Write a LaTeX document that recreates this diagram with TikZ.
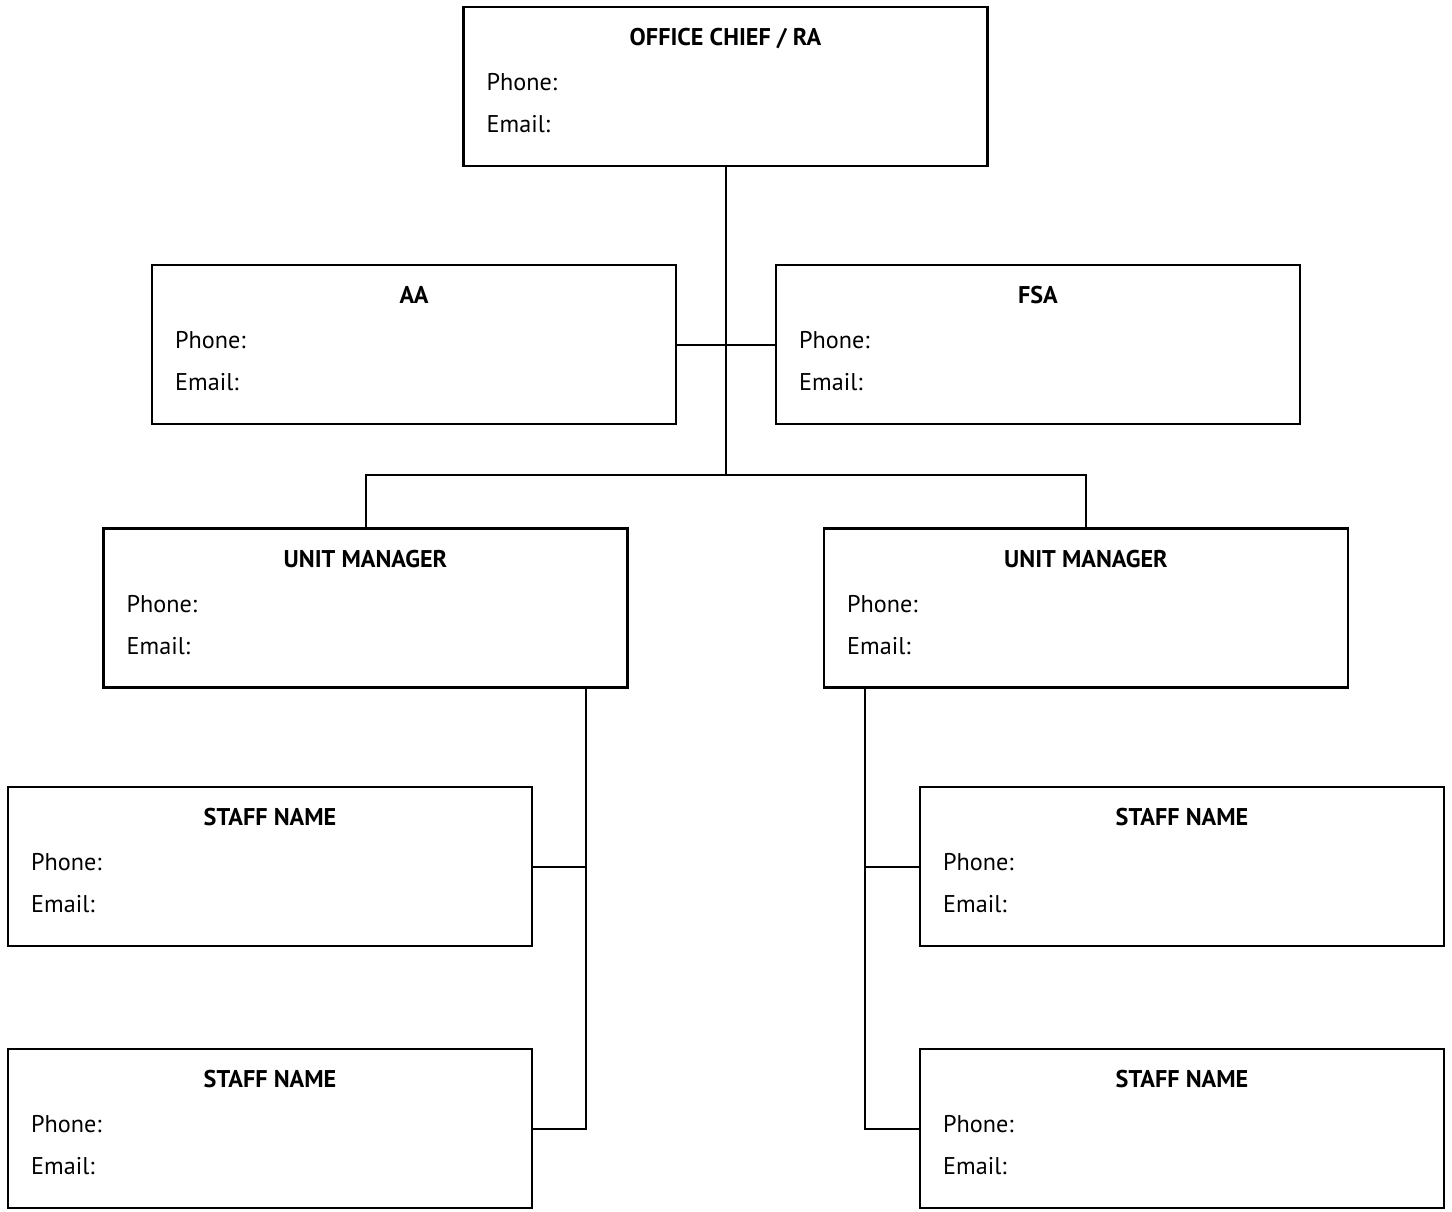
\documentclass[tikz,border=0pt]{standalone}
\usepackage{fontspec}
\setmainfont{PT Sans}
\usepackage{tikz}
\usetikzlibrary{positioning}

\tikzset{
  orgbox/.style={draw, line width=1.2pt, minimum width=262pt, minimum height=79.5pt, inner sep=0pt},
  orgtitle/.style={anchor=base, inner sep=0pt, font=\fontsize{12.1}{15}\selectfont\bfseries},
  orgline/.style={anchor=base west, inner sep=0pt, font=\fontsize{12.1}{15}\selectfont},
  link/.style={line width=1pt}
}

\begin{document}
\begin{tikzpicture}[x=0.5pt, y=-0.5pt]
    \useasboundingbox (0,0) rectangle (1452,1211);
    % boxes
    \node[orgbox] (chief) at (725.5, 86.5) {};
    \node[orgbox] (aa)    at (414, 344.5)  {};
    \node[orgbox] (fsa)   at (1038, 344.5) {};
    \node[orgbox] (uml)   at (365.5, 608)  {};
    \node[orgbox] (umr)   at (1086, 608)   {};
    \node[orgbox] (sl1)   at (270, 866.5)  {};
    \node[orgbox] (sr1)   at (1182, 866.5) {};
    \node[orgbox] (sl2)   at (270, 1128.5) {};
    \node[orgbox] (sr2)   at (1182, 1128.5) {};
    % texts
    \node[orgtitle] (chief-t) at ([shift={(0,40)}]chief.north) {OFFICE CHIEF / RA};
    \node[orgline]  (chief-p) at ([shift={(24,85)}]chief.north west) {Phone:};
    \node[orgline]  (chief-e) at ([shift={(24,127)}]chief.north west) {Email:};
    \node[orgtitle] (aa-t) at ([shift={(0,40)}]aa.north) {AA};
    \node[orgline]  (aa-p) at ([shift={(24,85)}]aa.north west) {Phone:};
    \node[orgline]  (aa-e) at ([shift={(24,127)}]aa.north west) {Email:};
    \node[orgtitle] (fsa-t) at ([shift={(0,40)}]fsa.north) {FSA};
    \node[orgline]  (fsa-p) at ([shift={(24,85)}]fsa.north west) {Phone:};
    \node[orgline]  (fsa-e) at ([shift={(24,127)}]fsa.north west) {Email:};
    \node[orgtitle] (uml-t) at ([shift={(0,40)}]uml.north) {UNIT MANAGER};
    \node[orgline]  (uml-p) at ([shift={(24,85)}]uml.north west) {Phone:};
    \node[orgline]  (uml-e) at ([shift={(24,127)}]uml.north west) {Email:};
    \node[orgtitle] (umr-t) at ([shift={(0,40)}]umr.north) {UNIT MANAGER};
    \node[orgline]  (umr-p) at ([shift={(24,85)}]umr.north west) {Phone:};
    \node[orgline]  (umr-e) at ([shift={(24,127)}]umr.north west) {Email:};
    \node[orgtitle] (sl1-t) at ([shift={(0,40)}]sl1.north) {STAFF NAME};
    \node[orgline]  (sl1-p) at ([shift={(24,85)}]sl1.north west) {Phone:};
    \node[orgline]  (sl1-e) at ([shift={(24,127)}]sl1.north west) {Email:};
    \node[orgtitle] (sr1-t) at ([shift={(0,40)}]sr1.north) {STAFF NAME};
    \node[orgline]  (sr1-p) at ([shift={(24,85)}]sr1.north west) {Phone:};
    \node[orgline]  (sr1-e) at ([shift={(24,127)}]sr1.north west) {Email:};
    \node[orgtitle] (sl2-t) at ([shift={(0,40)}]sl2.north) {STAFF NAME};
    \node[orgline]  (sl2-p) at ([shift={(24,85)}]sl2.north west) {Phone:};
    \node[orgline]  (sl2-e) at ([shift={(24,127)}]sl2.north west) {Email:};
    \node[orgtitle] (sr2-t) at ([shift={(0,40)}]sr2.north) {STAFF NAME};
    \node[orgline]  (sr2-p) at ([shift={(24,85)}]sr2.north west) {Phone:};
    \node[orgline]  (sr2-e) at ([shift={(24,127)}]sr2.north west) {Email:};
    % connectors
    \coordinate (hub) at (725.5, 475);
    \coordinate (lspine) at (586, 688);
    \coordinate (rspine) at (865, 688);
    \draw[link] (chief.south) -- (hub);
    \draw[link] (aa.east) -- (fsa.west);
    \draw[link] (uml.north) |- (hub) -| (umr.north);
    \draw[link] (lspine) |- (sl2.east);
    \draw[link] (sl1.east) -- (sl1.east -| lspine);
    \draw[link] (rspine) |- (sr2.west);
    \draw[link] (sr1.west) -- (sr1.west -| rspine);
\end{tikzpicture}
\end{document}
